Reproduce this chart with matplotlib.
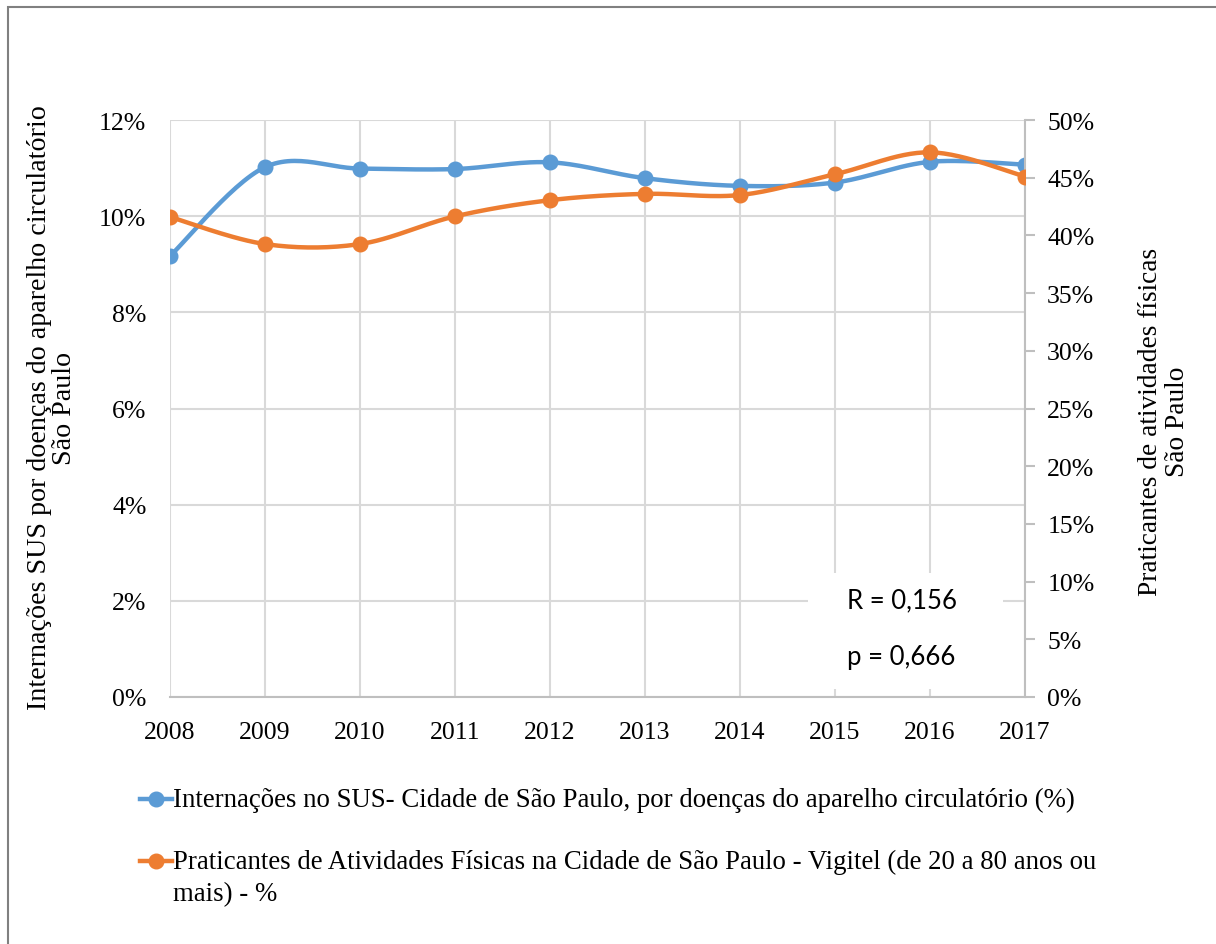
import numpy as np
import matplotlib
matplotlib.use("Agg")
import matplotlib.pyplot as plt
from matplotlib.lines import Line2D
from matplotlib.patches import Rectangle
from matplotlib.ticker import FuncFormatter, MultipleLocator

plt.rcParams['font.family'] = ['Liberation Serif', 'DejaVu Serif']

# dados
anos = [2008, 2009, 2010, 2011, 2012, 2013, 2014, 2015, 2016, 2017]
internacoes = [9.17, 11.02, 10.99, 10.98, 11.12, 10.79, 10.63, 10.70, 11.13, 11.07]
praticantes = [41.6, 39.25, 39.25, 41.65, 43.05, 43.6, 43.5, 45.3, 47.2, 45.1]

label_sus = ["Internações no SUS- Cidade de São Paulo, por doenças do aparelho circulatório (%)"]
label_vig = ["Praticantes de Atividades Físicas na Cidade de São Paulo - Vigitel (de 20 a 80 anos ou",
             "mais) - %"]

AZUL = "#5B9BD5"
LARANJA = "#ED7D31"
FS = 18.5


def suaviza(x, y, n=30):
    # spline tipo Catmull-Rom (parecido com a linha suavizada do Excel)
    x = np.asarray(x, float)
    y = np.asarray(y, float)
    px = np.concatenate([[x[0]], x, [x[-1]]])
    py = np.concatenate([[y[0]], y, [y[-1]]])
    xs, ys = [], []
    t = np.linspace(0, 1, n)
    for i in range(1, len(px) - 2):
        p0x, p1x, p2x, p3x = px[i - 1], px[i], px[i + 1], px[i + 2]
        p0y, p1y, p2y, p3y = py[i - 1], py[i], py[i + 1], py[i + 2]
        b1x, b2x = p1x + (p2x - p0x) / 6, p2x - (p3x - p1x) / 6
        b1y, b2y = p1y + (p2y - p0y) / 6, p2y - (p3y - p1y) / 6
        xs.append((1 - t) ** 3 * p1x + 3 * (1 - t) ** 2 * t * b1x + 3 * (1 - t) * t ** 2 * b2x + t ** 3 * p2x)
        ys.append((1 - t) ** 3 * p1y + 3 * (1 - t) ** 2 * t * b1y + 3 * (1 - t) * t ** 2 * b2y + t ** 3 * p2y)
    return np.concatenate(xs), np.concatenate(ys)


fig = plt.figure(figsize=(12.16, 9.45), dpi=100)
ax = fig.add_axes([170 / 1216, 1 - 698 / 945, 855 / 1216, 577 / 945])
ax2 = ax.twinx()

# linha azul (eixo esquerdo)
sx, sy = suaviza(anos, internacoes)
ax.plot(sx, sy, color=AZUL, lw=3.2, zorder=3, solid_capstyle='round')
ax.plot(anos, internacoes, 'o', color=AZUL, ms=10.5, zorder=4)

# linha laranja (eixo direito)
sx, sy = suaviza(anos, praticantes)
ax2.plot(sx, sy, color=LARANJA, lw=3.2, zorder=3, solid_capstyle='round')
ax2.plot(anos, praticantes, 'o', color=LARANJA, ms=10.5, zorder=4)

ax.set_xlim(2008, 2017)
ax.set_ylim(0, 12)
ax2.set_ylim(0, 50)
ax.set_xticks(anos)
ax.set_xticklabels([str(a) for a in anos])
ax.yaxis.set_major_locator(MultipleLocator(2))
ax2.yaxis.set_major_locator(MultipleLocator(5))
ax.yaxis.set_major_formatter(FuncFormatter(lambda v, p: f"{v:.0f}%"))
ax2.yaxis.set_major_formatter(FuncFormatter(lambda v, p: f"{v:.0f}%"))

ax.grid(True, color="#D9D9D9", lw=1.5)
ax.set_axisbelow(True)
for s in ['top', 'left', 'right']:
    ax.spines[s].set_visible(False)
for s in ['top', 'left', 'bottom']:
    ax2.spines[s].set_visible(False)
ax.spines['bottom'].set_color("#BFBFBF")
ax.spines['bottom'].set_linewidth(1.5)
ax2.spines['right'].set_color("#BFBFBF")
ax2.spines['right'].set_linewidth(1.5)

ax.tick_params(axis='y', length=0, labelsize=FS, pad=17)
ax.tick_params(axis='x', length=0, labelsize=FS, pad=17)
ax2.tick_params(axis='y', length=7, width=1.5, color="#BFBFBF", labelsize=FS, pad=9)

# rotulos dos eixos
fig.text(52 / 1216, 1 - 408 / 945,
         "Internações SUS por doenças do aparelho circulatório\nSão Paulo",
         rotation=90, ha='center', va='center', fontsize=20.2, linespacing=0.95,
         multialignment='center')
fig.text(1164 / 1216, 1 - 422 / 945,
         "Praticantes de atividades físicas\nSão Paulo",
         rotation=90, ha='center', va='center', fontsize=19.7, linespacing=1.15,
         multialignment='center')

# caixa com R e p
ax.add_patch(Rectangle((2014.72, 0.17), 2.05, 2.4, facecolor='white', edgecolor='none', zorder=2))
ax.text(2015.7, 2.02, "R = 0,156", fontsize=18.5, family=['Lato', 'DejaVu Sans'],
        ha='center', va='center', zorder=5)
ax.text(2015.7, 0.85, "p = 0,666", fontsize=18.5, family=['Lato', 'DejaVu Sans'],
        ha='center', va='center', zorder=5)

# legenda manual
for yy, cor, linhas in [(800, AZUL, label_sus), (862, LARANJA, label_vig)]:
    yf = 1 - yy / 945
    fig.add_artist(Line2D([140 / 1216, 172 / 1216], [yf, yf], color=cor, lw=3.2,
                          transform=fig.transFigure))
    fig.add_artist(Line2D([156 / 1216], [yf], marker='o', ms=10.5, color=cor,
                          transform=fig.transFigure))
    for k, txt in enumerate(linhas):
        fig.text(173 / 1216, 1 - (yy + 33 * k) / 945, txt, fontsize=19.3,
                 ha='left', va='center')

# moldura
fig.add_artist(Rectangle((8 / 1216, -0.1), 1.2, 1 - 8 / 945 + 0.1, transform=fig.transFigure,
                         fill=False, edgecolor="#808080", lw=1.5))

fig.savefig("out.png", dpi=100)
